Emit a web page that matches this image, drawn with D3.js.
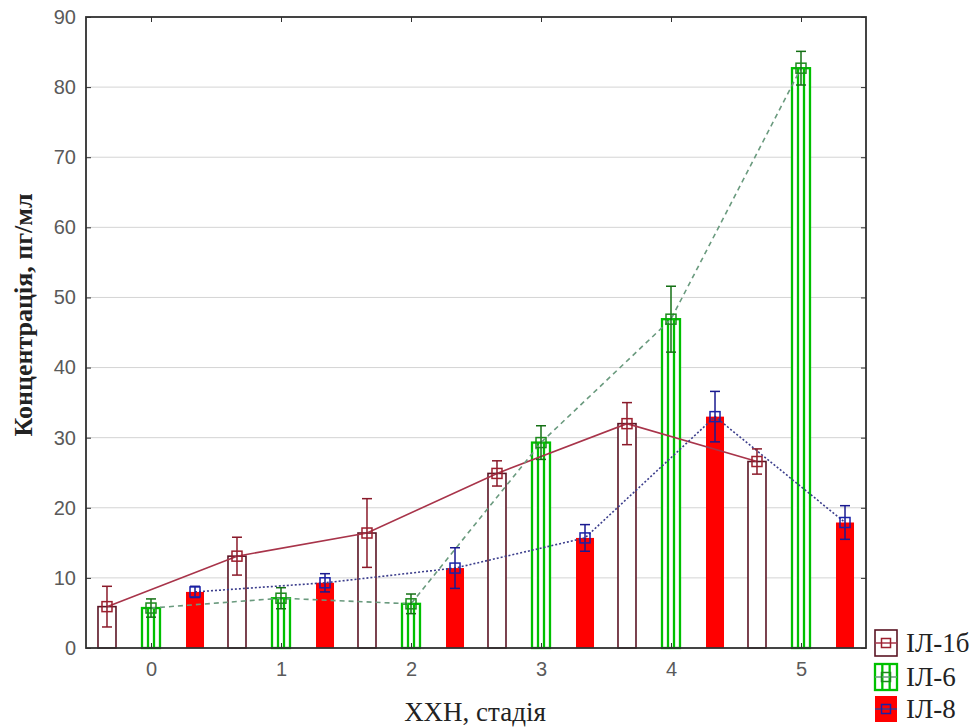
<!DOCTYPE html>
<html><head><meta charset="utf-8">
<script src="https://cdn.jsdelivr.net/npm/d3@7"></script>
<style>body{margin:0;background:#fff}svg{display:block}</style>
</head><body>
<svg id="chart" width="980" height="727"></svg>
<script>
const categories = ["0","1","2","3","4","5"];
const seriesNames = ["ІЛ-1б","ІЛ-6","ІЛ-8"];
const il1b = [5.9, 13.1, 16.4, 24.9, 32.0, 26.6];
const il1bErr = [2.9, 2.7, 4.9, 1.8, 3.0, 1.8];
const il6 = [5.7, 7.1, 6.3, 29.3, 46.9, 82.7];
const il6Err = [1.3, 1.5, 1.4, 2.4, 4.7, 2.4];
const il8 = [8.0, 9.3, 11.4, 15.7, 33.0, 17.9];
const il8Err = [0.8, 1.3, 2.9, 1.9, 3.6, 2.4];
const yTicks = [0,10,20,30,40,50,60,70,80,90];
const xTitle = "ХХН, стадія";
const yTitle = "Концентрація, пг/мл";

const L = 86, R = 866, T = 17, B = 648;
const svg = d3.select("#chart");
const x0 = d3.scaleBand().domain(categories).range([L, R]);
const xi = d3.scalePoint().domain(seriesNames).range([0, x0.bandwidth()]).padding(0.477);
const y = d3.scaleLinear().domain([0, 90]).range([B, T]);
const barW = 18;

const series = [
  {name: seriesNames[0], vals: il1b, err: il1bErr, bar: "#5a1424", mark: "#9c1f2e", errc: "#8a1a2a", line: "#a8344a", dash: null},
  {name: seriesNames[1], vals: il6, err: il6Err, bar: "#00c000", mark: "#1c8a1c", errc: "#147014", line: "#6a9a7e", dash: "5,4"},
  {name: seriesNames[2], vals: il8, err: il8Err, bar: "#ff0000", mark: "#1a22a8", errc: "#1a1a90", line: "#3c3e8c", dash: "2,2"}
];

// grid
svg.append("g").selectAll("line").data(yTicks.filter(t => t > 0 && t < 90)).join("line")
  .attr("x1", L).attr("x2", R).attr("y1", d => y(d)).attr("y2", d => y(d))
  .attr("stroke", "#d4d4d4").attr("stroke-width", 1);

const cx = (s, i) => x0(categories[i]) + xi(s.name);

// bars
series.forEach((s, si) => {
  const g = svg.append("g");
  s.vals.forEach((v, i) => {
    const xl = cx(s, i) - barW / 2, yt = y(v), h = y(0) - y(v);
    if (si === 0) {
      g.append("rect").attr("x", xl).attr("y", yt).attr("width", barW).attr("height", h)
        .attr("fill", "#fff").attr("stroke", s.bar).attr("stroke-width", 1.6);
    } else if (si === 1) {
      g.append("rect").attr("x", xl).attr("y", yt).attr("width", barW).attr("height", h)
        .attr("fill", "#fff").attr("stroke", s.bar).attr("stroke-width", 2.3);
      [barW / 3, 2 * barW / 3].forEach(o => g.append("line")
        .attr("x1", xl + o).attr("x2", xl + o).attr("y1", yt).attr("y2", y(0))
        .attr("stroke", s.bar).attr("stroke-width", 2.3));
    } else {
      g.append("rect").attr("x", xl).attr("y", yt).attr("width", barW).attr("height", h)
        .attr("fill", s.bar);
    }
  });
});

// lines
series.forEach(s => {
  const line = d3.line().x((d, i) => cx(s, i)).y(d => y(d));
  svg.append("path").attr("d", line(s.vals)).attr("fill", "none")
    .attr("stroke", s.line).attr("stroke-width", 1.6)
    .attr("stroke-dasharray", s.dash);
});

// error bars + markers
series.forEach(s => {
  const g = svg.append("g");
  s.vals.forEach((v, i) => {
    const c = cx(s, i);
    const yt = y(v + s.err[i]), yb = y(v - s.err[i]);
    g.append("line").attr("x1", c).attr("x2", c).attr("y1", yt).attr("y2", yb).attr("stroke", s.errc).attr("stroke-width", 1.5);
    [yt, yb].forEach(yy => g.append("line").attr("x1", c - 5).attr("x2", c + 5).attr("y1", yy).attr("y2", yy).attr("stroke", s.errc).attr("stroke-width", 1.5));
    g.append("rect").attr("x", c - 5).attr("y", y(v) - 5).attr("width", 10).attr("height", 10)
      .attr("fill", "none").attr("stroke", s.mark).attr("stroke-width", 1.5);
  });
});

// frame and ticks
svg.append("rect").attr("x", L).attr("y", T).attr("width", R - L).attr("height", B - T)
  .attr("fill", "none").attr("stroke", "#303030").attr("stroke-width", 1.8);
const yAxisL = d3.axisLeft(y).tickValues(yTicks).tickSize(-5).tickPadding(10);
const gl = svg.append("g").attr("transform", `translate(${L},0)`).call(yAxisL);
gl.select(".domain").remove();
gl.selectAll(".tick line").attr("stroke", "#303030");
gl.selectAll(".tick text").attr("font-family", "Liberation Sans, Arial, sans-serif").attr("font-size", 20).attr("fill", "#5a5a5a");
const gr = svg.append("g").attr("transform", `translate(${R},0)`).call(d3.axisRight(y).tickValues(yTicks).tickSize(-5).tickFormat(""));
gr.select(".domain").remove();
gr.selectAll(".tick line").attr("stroke", "#303030");
const xc = d3.scalePoint().domain(categories).range([x0(categories[0]) + x0.bandwidth() / 2, x0(categories[5]) + x0.bandwidth() / 2]);
const gb = svg.append("g").attr("transform", `translate(0,${B})`).call(d3.axisBottom(xc).tickSize(-5).tickPadding(14));
gb.select(".domain").remove();
gb.selectAll(".tick line").attr("stroke", "#303030");
gb.selectAll(".tick text").attr("font-family", "Liberation Sans, Arial, sans-serif").attr("font-size", 20).attr("fill", "#5a5a5a");
const gt = svg.append("g").attr("transform", `translate(0,${T})`).call(d3.axisTop(xc).tickSize(-5).tickFormat(""));
gt.select(".domain").remove();
gt.selectAll(".tick line").attr("stroke", "#303030");

// titles
svg.append("text").attr("x", 475).attr("y", 721).attr("text-anchor", "middle")
  .attr("font-family", "Liberation Serif, Times New Roman, serif").attr("font-size", 27).attr("fill", "#222").text(xTitle);
svg.append("text").attr("transform", "translate(32,315) rotate(-90)").attr("text-anchor", "middle")
  .attr("font-family", "Liberation Serif, Times New Roman, serif").attr("font-size", 26).attr("font-weight", "bold").attr("fill", "#222").text(yTitle);

// legend
const lg = svg.append("g");
const rowsY = [643, 677, 709];
series.forEach((s, si) => {
  const yc = rowsY[si], xl = 875, w = 22, h = 26, yt = yc - h / 2;
  if (si === 0) {
    lg.append("rect").attr("x", xl).attr("y", yt).attr("width", w).attr("height", h).attr("fill", "#fff").attr("stroke", s.bar).attr("stroke-width", 1.6);
  } else if (si === 1) {
    lg.append("rect").attr("x", xl).attr("y", yt).attr("width", w).attr("height", h).attr("fill", "#fff").attr("stroke", s.bar).attr("stroke-width", 2.3);
    [w / 3, 2 * w / 3].forEach(o => lg.append("line").attr("x1", xl + o).attr("x2", xl + o).attr("y1", yt).attr("y2", yt + h).attr("stroke", s.bar).attr("stroke-width", 2.3));
  } else {
    lg.append("rect").attr("x", xl).attr("y", yt).attr("width", w).attr("height", h).attr("fill", s.bar);
  }
  lg.append("line").attr("x1", xl).attr("x2", xl + w).attr("y1", yc).attr("y2", yc).attr("stroke", s.line).attr("stroke-width", 1.5);
  lg.append("rect").attr("x", xl + w / 2 - 4.5).attr("y", yc - 4.5).attr("width", 9).attr("height", 9).attr("fill", "none").attr("stroke", s.mark).attr("stroke-width", 1.5);
  lg.append("text").attr("x", 906).attr("y", yc + 9).attr("font-family", "Liberation Serif, Times New Roman, serif")
    .attr("font-size", 27).attr("fill", "#222").text(s.name);
});
</script>
</body></html>
